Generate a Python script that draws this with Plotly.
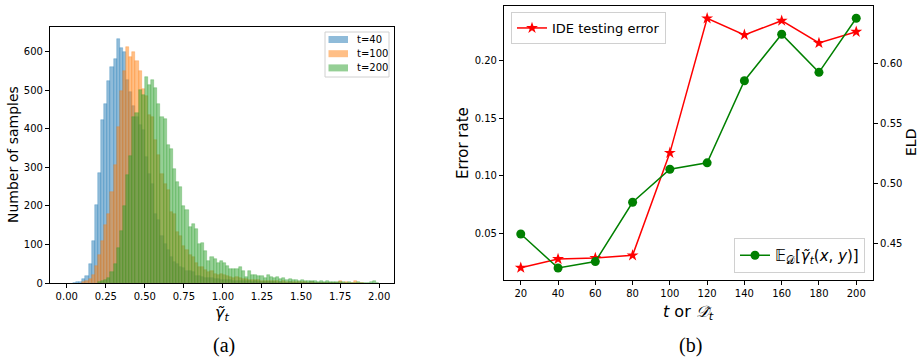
import numpy as np
import plotly.graph_objects as go

# ---------------- data: left histogram (bin width 0.02) ----------------
BIN_W = 0.02
blue_start = 0.04   # t=40
blue_counts = [1, 2, 3, 10, 19, 49, 109, 202, 285, 423, 464, 524, 560, 580, 633, 610, 600,
               527, 496, 459, 430, 410, 397, 327, 284, 258, 180, 163, 122, 102, 86, 67, 55,
               49, 42, 40, 30, 30, 28, 18, 18, 16, 14, 14, 12, 10, 10, 9, 8, 8, 7, 6, 6, 5,
               5, 4, 4, 3, 4, 3, 3, 2, 3, 2, 2, 1, 2, 1, 1, 2, 1, 1, 1, 0, 1, 1, 3, 1, 0, 1,
               0, 1, 0, 0, 1]
orange_start = 0.10  # t=100
orange_counts = [2, 5, 10, 20, 44, 73, 110, 150, 180, 236, 306, 405, 497, 550, 612, 585,
                 600, 575, 550, 504, 485, 436, 431, 371, 331, 284, 258, 241, 184, 180, 132,
                 122, 96, 86, 73, 67, 53, 42, 42, 34, 29, 31, 24, 21, 23, 20, 18, 15, 14, 15,
                 14, 10, 10, 9, 8, 8, 7, 6, 6, 5, 5, 4, 5, 3, 4, 3, 3, 2, 3, 2, 2, 2, 1, 2,
                 1, 1, 1, 1, 0, 1, 0, 1, 6, 1, 2, 1, 1, 4, 1, 1]
green_start = 0.20   # t=200
green_counts = [2, 5, 8, 13, 28, 50, 90, 135, 200, 280, 330, 430, 440, 500, 487, 534, 513,
                526, 506, 465, 431, 425, 357, 348, 296, 262, 250, 200, 189, 144, 153, 140,
                100, 103, 83, 57, 67, 61, 53, 57, 51, 45, 36, 36, 36, 41, 31, 16, 31, 21, 20,
                19, 18, 14, 21, 15, 12, 16, 10, 12, 8, 10, 7, 9, 6, 7, 5, 6, 5, 4, 3, 4, 3,
                4, 2, 3, 2, 2, 3, 1, 2, 1, 1, 2, 1, 1, 1, 2, 4, 1]
hist_names = ["t=40", "t=100", "t=200"]
hist_colors = ["31,119,180", "255,127,14", "44,160,44"]
hist_xticks = [0.00, 0.25, 0.50, 0.75, 1.00, 1.25, 1.50, 1.75, 2.00]
hist_yticks = [0, 100, 200, 300, 400, 500, 600]

# ---------------- data: right line chart ----------------
t_vals = [20, 40, 60, 80, 100, 120, 140, 160, 180, 200]
ide_error = [0.0206, 0.0281, 0.0290, 0.0313, 0.1200, 0.2363, 0.2220, 0.2343, 0.2150, 0.2247]
eld = [0.4583, 0.4300, 0.4353, 0.4847, 0.5122, 0.5175, 0.5858, 0.6245, 0.5928, 0.6378]
err_ticks = [0.05, 0.10, 0.15, 0.20]
eld_ticks = [0.45, 0.50, 0.55, 0.60]

W, H = 920, 358


def px(xp):
    return xp / W


def py(yp):
    return 1 - yp / H


fig = go.Figure()

for start, counts, name, col in zip([blue_start, orange_start, green_start],
                                    [blue_counts, orange_counts, green_counts],
                                    hist_names, hist_colors):
    centers = start + BIN_W * (np.arange(len(counts)) + 0.5)
    fig.add_trace(go.Bar(
        x=centers, y=counts, width=BIN_W, name=name,
        marker=dict(color=f"rgba({col},0.5)",
                    line=dict(color=f"rgba({col},0.45)", width=0.6)),
        xaxis="x", yaxis="y", showlegend=False,
    ))

fig.add_trace(go.Scatter(
    x=t_vals, y=ide_error, name="IDE testing error", mode="lines+markers",
    line=dict(color="red", width=1.5),
    marker=dict(symbol="star", size=9, color="red"),
    xaxis="x2", yaxis="y2", legend="legend2",
))
fig.add_trace(go.Scatter(
    x=t_vals, y=eld,
    name="𝔼<sub>𝒟</sub>[<i>γ̃</i><sub><i>t</i></sub>(<i>x</i>, <i>y</i>)]",
    mode="lines+markers",
    line=dict(color="green", width=1.5),
    marker=dict(symbol="circle", size=9, color="green"),
    xaxis="x2", yaxis="y3", legend="legend3",
))

axis_common = dict(showline=True, linecolor="black", linewidth=1.2, ticks="outside",
                   ticklen=4, tickwidth=1, tickcolor="black", showgrid=False,
                   zeroline=False, automargin=False,
                   tickfont=dict(family="DejaVu Sans", size=10, color="black"))

fig.update_layout(
    width=W, height=H,
    margin=dict(l=0, r=0, t=0, b=0, autoexpand=False),
    paper_bgcolor="white", plot_bgcolor="white",
    barmode="overlay", bargap=0,
    font=dict(family="DejaVu Sans", color="black"),
    xaxis=dict(domain=[px(50), px(394)], range=[-0.107, 2.095], tickvals=hist_xticks,
               tickformat=".2f", mirror=True, anchor="y", **axis_common),
    yaxis=dict(domain=[py(283), py(27)], range=[0, 664], tickvals=hist_yticks,
               mirror=True, anchor="x", **axis_common),
    xaxis2=dict(domain=[px(504), px(873)], range=[11, 209], tickvals=t_vals,
                mirror=True, anchor="y2", **axis_common),
    yaxis2=dict(domain=[py(280), py(6)], range=[0.01, 0.247], tickvals=err_ticks,
                tickformat=".2f", anchor="x2", **axis_common),
    yaxis3=dict(domain=[py(280), py(6)], range=[0.42, 0.648], tickvals=eld_ticks,
                tickformat=".2f", overlaying="y2", side="right", anchor="x2", **axis_common),
    legend2=dict(x=px(511), y=py(12), xanchor="left", yanchor="top",
                 bgcolor="rgba(255,255,255,0.8)", bordercolor="#d0d0d0", borderwidth=1,
                 font=dict(size=13)),
    legend3=dict(x=px(865), y=py(273), xanchor="right", yanchor="bottom",
                 bgcolor="rgba(255,255,255,0.8)", bordercolor="#d0d0d0", borderwidth=1,
                 font=dict(size=15)),
)

# --- matplotlib-style legend for the histogram (box, wide patches, labels) ---
fig.add_shape(type="rect", xref="paper", yref="paper",
              x0=px(325), x1=px(389), y0=py(77), y1=py(32),
              line=dict(color="#d0d0d0", width=1), fillcolor="rgba(255,255,255,0.8)")
for i, (name, col) in enumerate(zip(hist_names, hist_colors)):
    yc = 39.5 + 14.2 * i
    fig.add_shape(type="rect", xref="paper", yref="paper",
                  x0=px(328.5), x1=px(348), y0=py(yc + 3.5), y1=py(yc - 3.5),
                  line=dict(width=0), fillcolor=f"rgba({col},0.5)")
    fig.add_annotation(text=name, x=px(355), y=py(yc), xref="paper", yref="paper",
                       showarrow=False, xanchor="left", yanchor="middle",
                       font=dict(size=10, color="black"))

annots = [
    dict(text="Number of samples", x=px(13), y=py(155), textangle=-90, size=14),
    dict(text="<i>γ̃</i><sub><i>t</i></sub>", x=px(222), y=py(313), textangle=0, size=16),
    dict(text="Error rate", x=px(463), y=py(143), textangle=-90, size=15),
    dict(text="ELD", x=px(911), y=py(143), textangle=-90, size=14),
    dict(text="<i>t</i> or <i>𝒟̃</i><sub><i>t</i></sub>", x=px(688), y=py(312), textangle=0, size=16),
]
for a in annots:
    fig.add_annotation(text=a["text"], x=a["x"], y=a["y"], xref="paper", yref="paper",
                       showarrow=False, textangle=a["textangle"], xanchor="center",
                       yanchor="middle", font=dict(size=a["size"], color="black"))
for lab, xx in [("(a)", 224), ("(b)", 690)]:
    fig.add_annotation(text=lab, x=px(xx), y=py(345), xref="paper", yref="paper",
                       showarrow=False, xanchor="center", yanchor="middle",
                       font=dict(family="Liberation Serif", size=20, color="black"))

fig.write_html("out.html",
               config={"displayModeBar": False},
               post_script="document.body.style.margin='0px';"
                           "document.body.style.overflow='hidden';")
